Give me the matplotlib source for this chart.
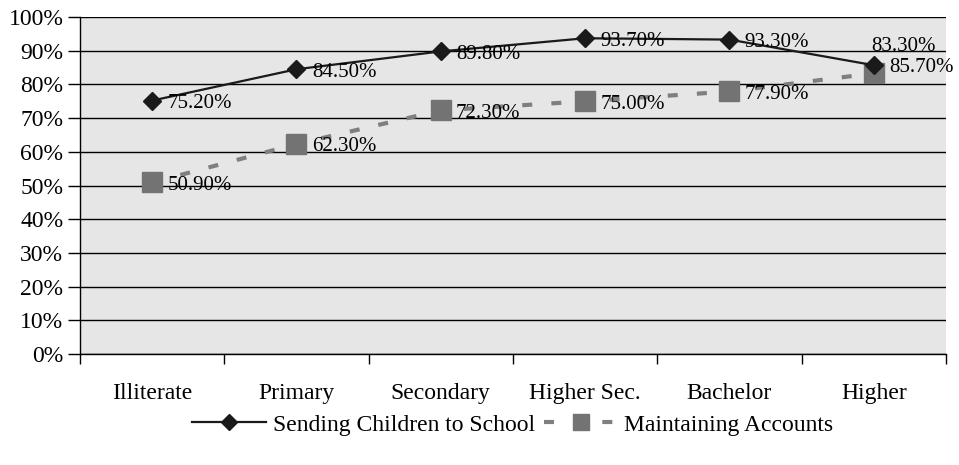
import matplotlib
matplotlib.use("Agg")
import matplotlib.pyplot as plt
from matplotlib.ticker import FixedLocator, PercentFormatter

plt.rcParams['font.family'] = ['Liberation Serif', 'DejaVu Serif']

categories = ["Illiterate", "Primary", "Secondary", "Higher Sec.", "Bachelor", "Higher"]
sending = [75.2, 84.5, 89.8, 93.7, 93.3, 85.7]
accounts = [50.9, 62.3, 72.3, 75.0, 77.9, 83.3]
sending_labels = ["75.20%", "84.50%", "89.80%", "93.70%", "93.30%", "85.70%"]
accounts_labels = ["50.90%", "62.30%", "72.30%", "75.00%", "77.90%", "83.30%"]

FS = 17
LFS = 15

fig = plt.figure(figsize=(9.59, 4.65), dpi=100)
ax = fig.add_axes([0.0834, 0.2387, 0.9030, 0.7247])
ax.set_facecolor('#e6e6e6')

x = list(range(len(categories)))
ax.set_xlim(-0.5, len(categories) - 0.5)
ax.set_ylim(0, 100)
ax.set_yticks(range(0, 101, 10))
ax.yaxis.set_major_formatter(PercentFormatter(decimals=0))
ax.grid(axis='y', color='black', linewidth=1.0)
ax.set_axisbelow(True)

ax.set_xticks(x)
ax.set_xticklabels(categories)
ax.tick_params(axis='x', length=0, pad=21, labelsize=FS)
ax.xaxis.set_minor_locator(FixedLocator([i - 0.5 for i in range(len(categories) + 1)]))
ax.tick_params(axis='x', which='minor', length=7, width=1, color='black')
ax.tick_params(axis='y', length=9, width=1, color='black', labelsize=FS, pad=3)

for s in ['top', 'right']:
    ax.spines[s].set_visible(False)
for s in ['left', 'bottom']:
    ax.spines[s].set_color('black')
    ax.spines[s].set_linewidth(1.0)

l2, = ax.plot(x, accounts, color='#7f7f7f', linewidth=3.0, linestyle=(0, (2.4, 4.6)),
              marker='s', markersize=14, markerfacecolor='#737373', markeredgecolor='#737373',
              label='Maintaining Accounts', zorder=3)
l1, = ax.plot(x, sending, color='#1a1a1a', linewidth=1.6,
              marker='D', markersize=9, markerfacecolor='#1a1a1a', markeredgecolor='#1a1a1a',
              label='Sending Children to School', zorder=4)

for i, (v, t) in enumerate(zip(sending, sending_labels)):
    ax.annotate(t, (i, v), xytext=(11, -2), textcoords='offset points',
                ha='left', va='center', fontsize=LFS, zorder=5)
for i, (v, t) in enumerate(zip(accounts, accounts_labels)):
    if i == len(accounts) - 1:
        ax.annotate(t, (i, v), xytext=(-2, 19), textcoords='offset points',
                    ha='left', va='center', fontsize=LFS, zorder=5)
    else:
        ax.annotate(t, (i, v), xytext=(11, -2), textcoords='offset points',
                    ha='left', va='center', fontsize=LFS, zorder=5)

ax.legend(handles=[l1, l2], loc='center', bbox_to_anchor=(0.5, -0.21), ncol=2,
          frameon=False, fontsize=FS, handlelength=3.1, columnspacing=0.4,
          handletextpad=0.3, markerscale=0.85)

fig.savefig('out.png', dpi=100)
